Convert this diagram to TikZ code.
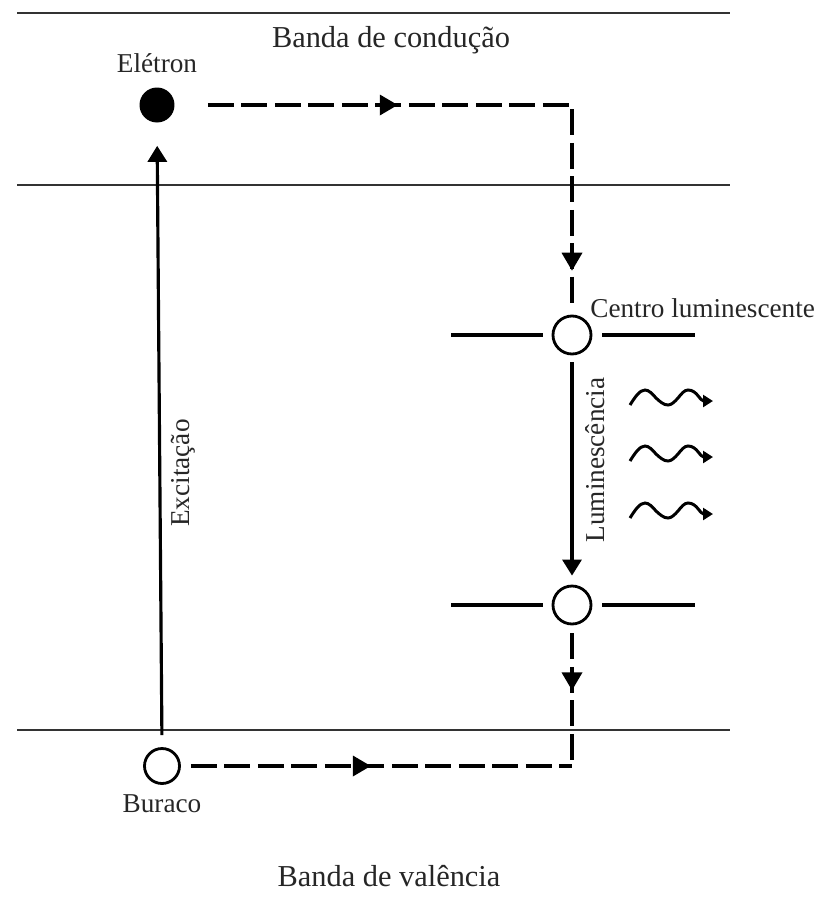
\documentclass[tikz,border=0pt]{standalone}
\usepackage{fontspec}
\setmainfont{Liberation Serif}
\usetikzlibrary{arrows.meta,calc,decorations.markings}
\tikzset{
  %% band edges and level marks
  bandln/.style={line width=1.4pt,draw=black!80},
  lvlln/.style={line width=1.8pt},
  %% particles
  eleccirc/.style={circle,fill=black,inner sep=0pt,minimum size=0.7cm},
  holecirc/.style={circle,draw,line width=1.6pt,inner sep=0pt,minimum size=0.7cm},
  lumcirc/.style={circle,draw,line width=1.6pt,inner sep=0pt,minimum size=0.76cm},
  %% labels
  lbl/.style={font=\fontsize{15.5}{18}\selectfont,inner sep=0pt,text=black!85},
  bandlbl/.style={font=\fontsize{17.3}{20}\selectfont,inner sep=0pt,text=black!85},
  %% arrows
  tri/.tip={Triangle[length=0.36cm,width=0.4cm]},
  solarr/.style={-{Triangle[length=0.32cm,width=0.38cm]},line width=1.8pt},
  dashln/.style={line width=2pt,dash pattern=on 0.52cm off 0.15cm,
                 postaction={decorate}},
  wavarr/.style={-{Triangle[length=0.2cm,width=0.24cm]},line width=1.7pt},
}

\begin{document}
\begin{tikzpicture}[x=0.02cm,y=-0.02cm]
  \useasboundingbox (0,0) rectangle (829,900);

  %% ── bands ────────────────────────────────────────────
  \draw[bandln] (17,13)  -- (730,13);
  \draw[bandln] (17,185) -- (730,185);
  \draw[bandln] (17,730) -- (730,730);
  \node[bandlbl,anchor=base] (cblbl) at (391,47)  {Banda de condução};
  \node[bandlbl,anchor=base] (vblbl) at (389,886) {Banda de valência};

  %% ── electron and hole ────────────────────────────────
  \node[eleccirc] (elec) at (157,105) {};
  \node[holecirc] (hole) at (162,766) {};
  \node[lbl,anchor=base] (eleclbl) at (157,72)  {Elétron};
  \node[lbl,anchor=base] (holelbl) at (162,812) {Buraco};

  %% ── luminescent centre levels ────────────────────────
  \node[lumcirc] (lumA) at (572,335) {};
  \node[lumcirc] (lumB) at (572,605) {};
  \foreach \lv in {lumA,lumB}{
    \draw[lvlln] ([xshift=-0.18cm]\lv.west) -- ++(-92,0);
    \draw[lvlln] ([xshift=0.2cm]\lv.east)   -- ++(93,0);
  }
  \node[lbl,anchor=base west] (lumlbl) at (590,317) {Centro luminescente};

  %% ── excitation ───────────────────────────────────────
  \draw[solarr,shorten <=0.24cm,shorten >=0.46cm] (hole.north) -- (elec.south);
  \node[lbl,rotate=90] (exclbl) at (183,473) {Excitação};

  %% ── electron path to the centre ──────────────────────
  \coordinate (cnrA) at (lumA |- elec);
  \draw[dashln,decoration={markings,
          mark=at position 3.8cm with {\arrow{tri}},
          mark=at position 10.6cm with {\arrow{tri}}}]
    ([xshift=0.66cm]elec.east) -- (cnrA) -- ([yshift=0.12cm]lumA.north);

  %% ── emission ─────────────────────────────────────────
  \draw[solarr,shorten <=0.14cm,shorten >=0.18cm] (lumA.south) -- (lumB.north);
  \node[lbl,rotate=90] (emilbl) at (595,460) {Luminescência};
  \foreach \wy in {398,454,511}{
    \draw[wavarr] (630,\wy+7) sin (645,\wy-8) cos (656,\wy) sin (668,\wy+7)
      cos (678,\wy) sin (688,\wy-8) .. controls (697,\wy-8) and (700,\wy+3) .. (713,\wy+3);
  }

  %% ── hole path to the centre ──────────────────────────
  \coordinate (cnrB) at (lumB |- hole);
  \draw[dashln,decoration={markings,
          mark=at position 1.14cm with {\arrow{tri}}}]
    ([yshift=-0.16cm]lumB.south) -- (cnrB);
  \draw[dashln,decoration={markings,
          mark=at position 3.6cm with {\arrow{tri}}}]
    ([xshift=0.2cm]hole.east) -- (cnrB);
\end{tikzpicture}
\end{document}
